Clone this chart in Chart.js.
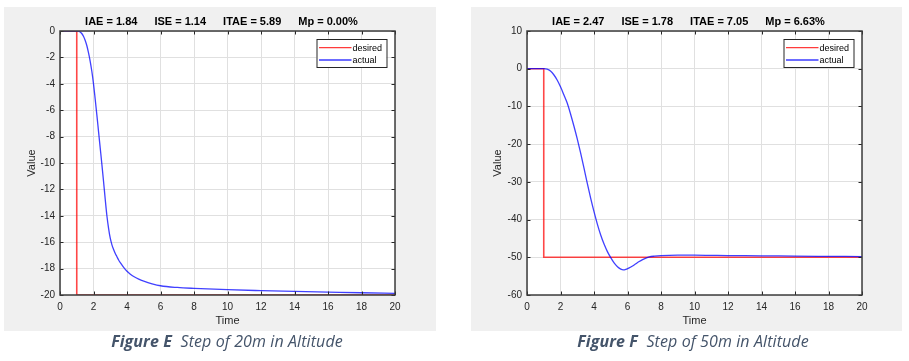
<!DOCTYPE html>
<html><head><meta charset="utf-8">
<script src="https://cdn.jsdelivr.net/npm/chart.js@4.4.1/dist/chart.umd.min.js"></script>
<style>
html,body{margin:0;padding:0;background:#fff;width:909px;height:361px;overflow:hidden;position:relative}
.panel{position:absolute;top:7px;height:324px;background:#f0f0f0}
#pE{left:4px;width:432px}
#pF{left:471px;width:431px}
canvas{display:block}
.cap{position:absolute;top:332px;font-family:"Open Sans",sans-serif;font-style:italic;font-size:16px;line-height:18px;color:#44546a;white-space:pre;transform:translateX(-50%);letter-spacing:0.1px}
.cap b{font-weight:700}
</style></head><body>
<div class="panel" id="pE"><canvas id="cE" width="432" height="324"></canvas></div>
<div class="panel" id="pF"><canvas id="cF" width="431" height="324"></canvas></div>
<div class="cap" style="left:227px"><b>Figure E</b>  Step of 20m in Altitude</div>
<div class="cap" style="left:693px"><b>Figure F</b>  Step of 50m in Altitude</div>
<script>
// ---- data ----
const seriesLabels = ['desired', 'actual'];
const desiredTime = [0, 1, 1, 20];
const desiredE = [0, 0, -20, -20];
const desiredF = [0, 0, -50, -50];

const actualTimeE = [0, 1.0, 1.1, 1.2, 1.3, 1.4, 1.5, 1.6, 1.7, 1.8, 1.9, 2.0, 2.1, 2.2, 2.3, 2.4, 2.5, 2.6, 2.7, 2.8, 2.9, 3.0, 3.1, 3.2, 3.3, 3.4, 3.5, 3.6, 3.8, 4.0, 4.2, 4.4, 4.7, 5.0, 5.5, 6.0, 7.0, 8.0, 10, 12, 14, 16, 18, 20];
const actualE = [0, 0, -0.01, -0.07, -0.19, -0.40, -0.70, -1.10, -1.64, -2.28, -3.05, -4.0, -5.15, -6.35, -7.6, -8.85, -10.1, -11.4, -12.75, -14.0, -14.95, -15.7, -16.2, -16.55, -16.85, -17.1, -17.35, -17.55, -17.9, -18.2, -18.42, -18.6, -18.8, -18.95, -19.15, -19.3, -19.43, -19.5, -19.6, -19.67, -19.73, -19.78, -19.83, -19.87];

const actualTimeF = [0, 1.0, 1.2, 1.4, 1.6, 1.8, 2.0, 2.2, 2.4, 2.6, 2.8, 3.0, 3.2, 3.4, 3.6, 3.8, 4.0, 4.2, 4.4, 4.6, 4.8, 5.0, 5.2, 5.4, 5.6, 5.75, 5.9, 6.1, 6.3, 6.5, 6.7, 6.9, 7.1, 7.3, 7.6, 8.0, 9.0, 10, 11, 12, 14, 16, 18, 20];
const actualF = [0, 0, -0.1, -0.6, -1.6, -3.0, -4.8, -6.9, -9.1, -12.0, -15.2, -18.6, -22.3, -26.3, -30.4, -34.3, -37.9, -41.2, -44.1, -46.5, -48.5, -50.1, -51.5, -52.5, -53.15, -53.35, -53.2, -52.8, -52.3, -51.7, -51.1, -50.6, -50.2, -49.9, -49.7, -49.55, -49.45, -49.45, -49.5, -49.55, -49.6, -49.7, -49.75, -49.8];

const titleE = ['IAE = 1.84', 'ISE = 1.14', 'ITAE = 5.89', 'Mp = 0.00%'];
const titleF = ['IAE = 2.47', 'ISE = 1.78', 'ITAE = 7.05', 'Mp = 6.63%'];
const xTicksStep = 2;
const yRangeE = [-20, 0], yStepE = 2;
const yRangeF = [-60, 10], yStepF = 10;

// ---- styling ----
const FONT = '"Liberation Sans", Arial, Helvetica, sans-serif';
const RED = 'rgba(255,0,0,0.72)';
const BLUE = 'rgba(0,0,255,0.75)';
const INK = '#262626';

const toXY = (xs, ys) => xs.map((v, i) => ({x: v, y: ys[i]}));

const framePlugin = {
  id: 'frame',
  beforeDraw(chart) {
    const {ctx, chartArea: a} = chart;
    ctx.save();
    ctx.fillStyle = '#ffffff';
    ctx.fillRect(a.left, a.top, a.width, a.height);
    ctx.restore();
  },
  afterDatasetsDraw(chart, args, opts) {
    const {ctx, chartArea: a, scales: {x, y}} = chart;
    ctx.save();
    ctx.strokeStyle = INK; ctx.lineWidth = 1;
    const L = 3.5;
    ctx.beginPath();
    x.ticks.forEach(t => {
      const px = Math.round(x.getPixelForValue(t.value)) + 0.5;
      ctx.moveTo(px, a.bottom); ctx.lineTo(px, a.bottom - L);
      ctx.moveTo(px, a.top); ctx.lineTo(px, a.top + L);
    });
    y.ticks.forEach(t => {
      const py = Math.round(y.getPixelForValue(t.value)) + 0.5;
      ctx.moveTo(a.left, py); ctx.lineTo(a.left + L, py);
      ctx.moveTo(a.right, py); ctx.lineTo(a.right - L, py);
    });
    ctx.stroke();
    ctx.strokeStyle = '#3c3c3c'; ctx.lineWidth = 1.5;
    ctx.strokeRect(a.left, a.top, a.width, a.height);

    // legend box (inside, top-right)
    const bw = 70, bh = 28;
    const bx = a.right - 8.5 - bw, by = a.top + 8;
    ctx.fillStyle = '#ffffff';
    ctx.fillRect(bx, by, bw, bh);
    ctx.strokeStyle = '#262626'; ctx.lineWidth = 1;
    ctx.strokeRect(bx + 0.5, by + 0.5, bw, bh);
    ctx.font = '9px ' + FONT;
    ctx.textBaseline = 'middle';
    ctx.textAlign = 'left';
    opts.legendOrder.forEach((di, k) => {
      const ds = chart.data.datasets[di];
      const ly = by + 8.7 + k * 12.3;
      ctx.strokeStyle = ds.legendColor; ctx.lineWidth = 1.3;
      ctx.beginPath(); ctx.moveTo(bx + 2.5, ly); ctx.lineTo(bx + 35, ly); ctx.stroke();
      ctx.fillStyle = '#000';
      ctx.fillText(ds.label, bx + 36, ly + 0.5);
    });

    // title pieces
    const parts = opts.title;
    ctx.font = 'bold 11px ' + FONT;
    ctx.fillStyle = '#000';
    const gap = 17;
    const widths = parts.map(p => ctx.measureText(p).width);
    const total = widths.reduce((s, w) => s + w, 0) + gap * (parts.length - 1);
    let tx = (a.left + a.right) / 2 - 6 - total / 2;
    ctx.textBaseline = 'middle';
    parts.forEach((p, i) => { ctx.fillText(p, tx, a.top - 9); tx += widths[i] + gap; });
    ctx.restore();
  }
};

function makeChart(id, actualT, actualV, desiredV, yRange, yStep, title, padRight, yTitlePad) {
  return new Chart(document.getElementById(id), {
    type: 'line',
    data: {
      datasets: [
        {label: seriesLabels[0], data: toXY(desiredTime, desiredV), borderColor: RED, legendColor: '#ff3b3b', borderWidth: 1.6, pointRadius: 0, tension: 0, order: 1},
        {label: seriesLabels[1], data: toXY(actualT, actualV), borderColor: BLUE, legendColor: '#3b3bff', borderWidth: 1.3, pointRadius: 0, cubicInterpolationMode: 'monotone', order: 0}
      ]
    },
    options: {
      responsive: false,
      animation: false,
      events: [],
      layout: {padding: {top: 24, right: padRight, bottom: 0, left: 0}},
      plugins: {
        legend: {display: false},
        tooltip: {enabled: false},
        title: {display: false},
        frame: {title: title, legendOrder: [0, 1]}
      },
      scales: {
        x: {
          type: 'linear', min: 0, max: 20,
          ticks: {stepSize: xTicksStep, font: {size: 10, family: FONT}, color: INK, padding: 6, maxRotation: 0, autoSkip: false},
          grid: {color: '#e0e0e0', drawTicks: false, lineWidth: 1},
          border: {display: false},
          title: {display: true, text: 'Time', font: {size: 11, family: FONT}, color: INK, padding: {top: 0, bottom: 3}},
          afterFit(s) { s.height = 36; }
        },
        y: {
          type: 'linear', min: yRange[0], max: yRange[1],
          ticks: {stepSize: yStep, font: {size: 10, family: FONT}, color: INK, padding: 5, autoSkip: false},
          grid: {color: '#e0e0e0', drawTicks: false, lineWidth: 1},
          border: {display: false},
          title: {display: true, text: 'Value', font: {size: 11, family: FONT}, color: INK, padding: {top: yTitlePad, bottom: 0}},
          afterFit(s) { s.width = 56; }
        }
      }
    },
    plugins: [framePlugin]
  });
}

makeChart('cE', actualTimeE, actualE, desiredE, yRangeE, yStepE, titleE, 41, 21);
makeChart('cF', actualTimeF, actualF, desiredF, yRangeF, yStepF, titleF, 40, 20);
</script>
</body></html>
